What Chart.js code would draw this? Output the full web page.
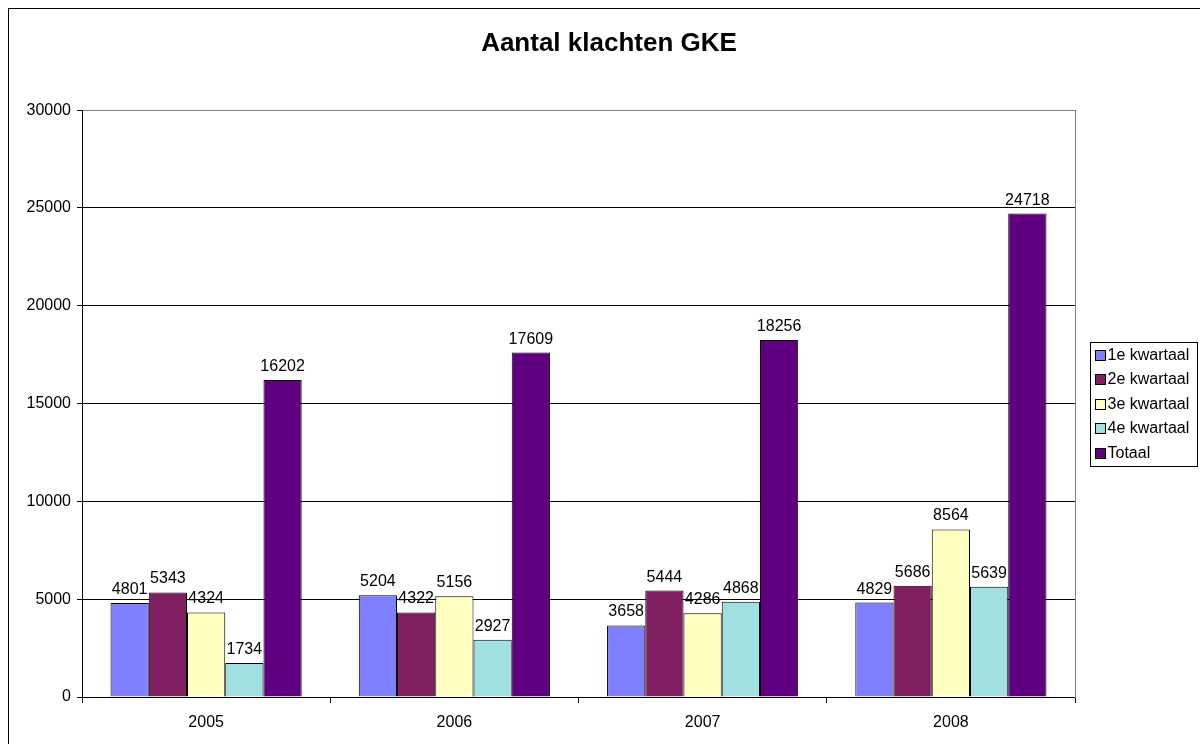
<!DOCTYPE html>
<html>
<head>
<meta charset="utf-8">
<script src="https://cdn.jsdelivr.net/npm/chart.js@4"></script>
<style>
  html, body { margin: 0; padding: 0; background: #fff; overflow: hidden; }
  #wrap { position: absolute; left: 8px; top: 8px; width: 1200px; height: 744px; border: 1px solid #000; }
</style>
</head>
<body>
<div id="wrap"><canvas id="chart" width="1200" height="744"></canvas></div>
<script>
const years = ["2005", "2006", "2007", "2008"];
const seriesNames = ["1e kwartaal", "2e kwartaal", "3e kwartaal", "4e kwartaal", "Totaal"];
const q1 = [4801, 5204, 3658, 4829];
const q2 = [5343, 4322, 5444, 5686];
const q3 = [4324, 5156, 4286, 8564];
const q4 = [1734, 2927, 4868, 5639];
const totaal = [16202, 17609, 18256, 24718];
const colors = ["#8080FF", "#802060", "#FFFFC0", "#A0E0E0", "#600080"];
const font = "Arial, 'Liberation Sans', sans-serif";

const values = [q1, q2, q3, q4, totaal];

// value labels above each bar
const barLabels = {
    id: "barLabels",
    afterDatasetsDraw(chart) {
        const ctx = chart.ctx;
        ctx.save();
        ctx.font = "16px " + font;
        ctx.fillStyle = "#000";
        ctx.textAlign = "center";
        ctx.textBaseline = "alphabetic";
        chart.data.datasets.forEach((ds, i) => {
            chart.getDatasetMeta(i).data.forEach((bar, j) => {
                ctx.fillText(ds.data[j], bar.x, bar.y - 9);
            });
        });
        ctx.restore();
    }
};

// boxed legend like the original
const boxLegend = {
    id: "boxLegend",
    afterDraw(chart) {
        const a = chart.chartArea;
        const ctx = chart.ctx;
        const rowH = 24.5;
        const w = 107, h = 124;
        const x = Math.round(a.right + 15) + 0.5;
        const y = Math.round((a.top + a.bottom) / 2 - h / 2) + 0.5;
        ctx.save();
        ctx.strokeStyle = "#000";
        ctx.lineWidth = 1;
        ctx.strokeRect(x, y, w, h);
        ctx.font = "16px " + font;
        ctx.textBaseline = "middle";
        chart.data.datasets.forEach((ds, i) => {
            const cy = y + 12 + i * rowH;
            ctx.fillStyle = ds.backgroundColor;
            ctx.fillRect(x + 5, Math.round(cy - 5), 10, 10);
            ctx.strokeRect(x + 5, Math.round(cy - 5) + 0.5, 10, 10);
            ctx.fillStyle = "#000";
            ctx.fillText(ds.label, x + 17, cy + 1);
        });
        ctx.restore();
    }
};

new Chart(document.getElementById("chart"), {
    type: "bar",
    data: {
        labels: years,
        datasets: seriesNames.map((name, i) => ({
            label: name,
            data: values[i],
            backgroundColor: colors[i],
            borderColor: "#000",
            borderWidth: 1,
            borderSkipped: "bottom"
        }))
    },
    options: {
        responsive: false,
        animation: false,
        events: [],
        layout: { padding: 0 },
        datasets: { bar: { categoryPercentage: 0.77, barPercentage: 1 } },
        plugins: {
            legend: { display: false },
            tooltip: { enabled: false },
            title: {
                display: true,
                fullSize: true,
                text: "Aantal klachten GKE",
                color: "#000",
                font: { family: font, size: 26, weight: "bold", lineHeight: 1.2 },
                padding: { top: 19, bottom: 51 }
            }
        },
        scales: {
            x: {
                offset: true,
                afterFit(scale) { scale.height = 56; },
                grid: { offset: true, drawOnChartArea: false, color: "#000", tickLength: 6 },
                border: { color: "#000" },
                ticks: { color: "#000", font: { family: font, size: 16 }, padding: 10 }
            },
            y: {
                min: 0,
                max: 30000,
                afterFit(scale) { scale.width = 73; },
                grid: {
                    // top line is the gray plot edge
                    color: c => (c.tick && c.tick.value === 30000 ? "#808080" : "#000"),
                    tickColor: "#000",
                    tickLength: 5
                },
                border: { color: "#000" },
                ticks: {
                    stepSize: 5000,
                    color: "#000",
                    font: { family: font, size: 16 },
                    padding: 6,
                    callback: v => String(v)
                }
            },
            // empty right axis: reserves the legend space and draws the gray plot edge
            yRight: {
                position: "right",
                min: 0,
                max: 30000,
                afterFit(scale) { scale.width = 134; },
                grid: { drawOnChartArea: false, drawTicks: false },
                border: { color: "#808080" },
                ticks: { display: false }
            }
        }
    },
    plugins: [barLabels, boxLegend]
});
</script>
</body>
</html>
